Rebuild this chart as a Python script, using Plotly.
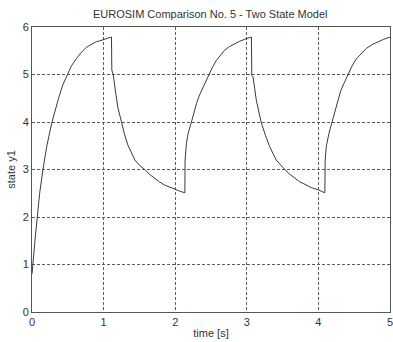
import plotly.graph_objects as go

# time [s] and state y1 values (vertical jumps repeat the time)
time_s = [0.0, 0.01, 0.023, 0.046, 0.074, 0.107, 0.153, 0.209, 0.279, 0.33, 0.377, 0.43, 0.49, 0.55, 0.618, 0.68,
          0.757, 0.82, 0.897, 0.95, 1.0, 1.05, 1.11,
          1.115, 1.134, 1.17, 1.2, 1.25, 1.29, 1.34, 1.39, 1.437, 1.5, 1.576, 1.64, 1.715, 1.78, 1.855, 1.93,
          2.0, 2.07, 2.135,
          2.138, 2.157, 2.18, 2.227, 2.26, 2.297, 2.34, 2.39, 2.473, 2.52, 2.576, 2.63, 2.69, 2.76, 2.83, 2.9,
          2.97, 3.064,
          3.07, 3.087, 3.133, 3.2, 3.26, 3.32, 3.41, 3.47, 3.53, 3.6, 3.67, 3.74, 3.81, 3.9, 4.0, 4.09,
          4.095, 4.11, 4.147, 4.19, 4.23, 4.27, 4.31, 4.356, 4.41, 4.47, 4.53, 4.6, 4.67, 4.75, 4.83, 4.91, 5.0]
state_y1 = [0.8, 1.02, 1.23, 1.58, 2.0, 2.5, 3.0, 3.51, 4.0, 4.29, 4.53, 4.78, 5.0, 5.18, 5.33, 5.45,
            5.57, 5.63, 5.69, 5.71, 5.73, 5.76, 5.79,
            5.09, 5.0, 4.6, 4.3, 4.0, 3.75, 3.51, 3.34, 3.2, 3.09, 3.0, 2.9, 2.81, 2.74, 2.67, 2.62,
            2.57, 2.54, 2.51,
            3.2, 3.55, 3.76, 4.0, 4.2, 4.39, 4.57, 4.74, 5.0, 5.15, 5.3, 5.41, 5.51, 5.59, 5.65, 5.7,
            5.74, 5.79,
            4.98, 4.95, 4.46, 4.0, 3.72, 3.48, 3.2, 3.09, 3.0, 2.9, 2.81, 2.74, 2.69, 2.62, 2.57, 2.51,
            3.2, 3.48, 3.76, 4.0, 4.24, 4.46, 4.65, 4.81, 5.0, 5.18, 5.33, 5.45, 5.55, 5.63, 5.69, 5.74, 5.79]

x_ticks = [0, 1, 2, 3, 4, 5]
y_ticks = [0, 1, 2, 3, 4, 5, 6]

fig = go.Figure()
fig.add_trace(go.Scatter(x=time_s, y=state_y1, mode="lines",
                         line=dict(color="#3a3a3a", width=1), showlegend=False,
                         hoverinfo="skip"))

font = dict(family="Liberation Sans, Arial, sans-serif", size=11, color="#333333")

axis_common = dict(showline=True, linecolor="#555555", linewidth=1, mirror=True,
                   showgrid=True, gridcolor="#5a5a5a", gridwidth=1, griddash="3px,2px",
                   zeroline=False, ticks="", tickfont=font, title_font=font,
                   ticklabeloverflow="allow")

fig.update_layout(
    width=393, height=342,
    margin=dict(l=32, r=0, t=27, b=30),
    paper_bgcolor="white", plot_bgcolor="white",
    font=font,
    title=dict(text="EUROSIM Comparison No. 5 - Two State Model", x=0.535, xanchor="center",
               yref="container", y=1 - 14 / 342, yanchor="middle", font=font),
    xaxis=dict(range=[0, 5], tickvals=x_ticks, title=dict(text="time [s]", standoff=2), **axis_common),
    yaxis=dict(range=[0, 6], tickvals=y_ticks, title=dict(text="state y1", standoff=4), **axis_common),
)

fig.write_html("out.html", config={"displayModeBar": False, "staticPlot": True},
               post_script="document.body.style.margin='0';document.body.style.overflow='hidden';")
